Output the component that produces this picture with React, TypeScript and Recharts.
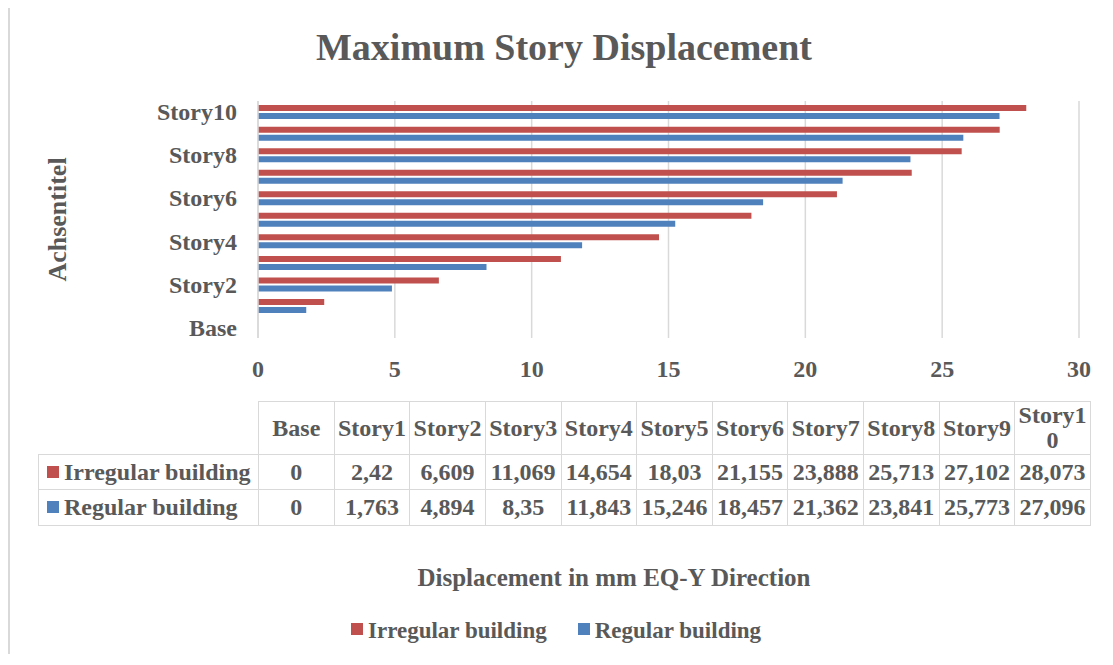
import React from "react";
import { BarChart, Bar, XAxis, YAxis, CartesianGrid, Label } from "recharts";

const stories = ["Base", "Story1", "Story2", "Story3", "Story4", "Story5", "Story6", "Story7", "Story8", "Story9", "Story10"];
const irregular = [0, 2.42, 6.609, 11.069, 14.654, 18.03, 21.155, 23.888, 25.713, 27.102, 28.073];
const regular = [0, 1.763, 4.894, 8.35, 11.843, 15.246, 18.457, 21.362, 23.841, 25.773, 27.096];
const xTicks = [0, 5, 10, 15, 20, 25, 30];

const RED = "#C0504D";
const BLUE = "#4F81BD";
const INK = "#595959";
const GRID = "#d9d9d9";
const FONT = "'Liberation Serif', 'Times New Roman', serif";

const data = stories.map((name, i) => ({ name, irregular: irregular[i], regular: regular[i] }));

// Excel shows decimals with a comma
const fmt = (v: number) => String(v).replace(".", ",");

function YTitle(props: any) {
  const vb = props.viewBox || {};
  const cy = vb.y + vb.height / 2;
  const x = 49;
  return (
    <text
      x={x}
      y={cy}
      transform={`rotate(-90, ${x}, ${cy})`}
      textAnchor="middle"
      dominantBaseline="central"
      fill={INK}
      fontSize={26}
      fontWeight={700}
      fontFamily={FONT}
    >
      Achsentitel
    </text>
  );
}

const cell: React.CSSProperties = {
  border: `1.5px solid ${GRID}`,
  padding: 0,
  textAlign: "center",
  fontWeight: 700,
  fontSize: 24,
  color: INK,
  fontFamily: FONT,
};

function Swatch({ color }: { color: string }) {
  return <span style={{ display: "inline-block", width: 12, height: 12, background: color, marginRight: 5, verticalAlign: "middle", position: "relative", top: -2 }} />;
}

export default function App() {
  const colW = 832 / stories.length;
  return (
    <div style={{ position: "relative", width: 1105, height: 650, marginTop: -4, fontFamily: FONT, color: INK }}>
      <div style={{ position: "absolute", left: 0, top: 0, right: 0, bottom: 0, borderLeft: `2px solid ${GRID}`, borderTop: `2px solid ${GRID}` }} />
      <div style={{ position: "absolute", left: 0, width: 1112, top: 21, textAlign: "center", fontSize: 38, fontWeight: 700 }}>
        Maximum Story Displacement
      </div>

      <div style={{ position: "absolute", left: 0, top: 0 }}>
        <BarChart
          width={1105}
          height={650}
          data={data}
          layout="vertical"
          margin={{ top: 97, right: 34, bottom: 276, left: 0 }}
          barCategoryGap="19%"
          barGap={2}
        >
          <CartesianGrid horizontal={false} stroke={GRID} strokeWidth={1.5} />
          <XAxis
            type="number"
            domain={[0, 30]}
            ticks={xTicks}
            axisLine={false}
            tickLine={false}
            tickMargin={16}
            height={40}
            tick={{ fill: INK, fontSize: 24, fontWeight: 700, fontFamily: FONT }}
          />
          <YAxis
            type="category"
            dataKey="name"
            reversed
            interval={1}
            width={250}
            axisLine={{ stroke: GRID, strokeWidth: 1.5 }}
            tickLine={false}
            tickMargin={15}
            tick={{ fill: INK, fontSize: 24, fontWeight: 700, fontFamily: FONT }}
          >
            <Label content={YTitle} />
          </YAxis>
          <Bar dataKey="irregular" name="Irregular building" fill={RED} isAnimationActive={false} />
          <Bar dataKey="regular" name="Regular building" fill={BLUE} isAnimationActive={false} />
        </BarChart>
      </div>

      <table
        style={{
          position: "absolute",
          left: 30,
          top: 397,
          borderCollapse: "collapse",
          tableLayout: "fixed",
          width: 220 + 832,
        }}
      >
        <colgroup>
          <col style={{ width: 220 }} />
          {stories.map((s) => (
            <col key={s} style={{ width: colW }} />
          ))}
        </colgroup>
        <tbody>
          <tr style={{ height: 53 }}>
            <td style={{ ...cell, border: "none" }} />
            {stories.map((s) => (
              <td key={s} style={{ ...cell, wordBreak: "break-all", lineHeight: "25px" }}>
                {s}
              </td>
            ))}
          </tr>
          <tr style={{ height: 35 }}>
            <td style={{ ...cell, textAlign: "left", paddingLeft: 8, whiteSpace: "nowrap" }}>
              <Swatch color={RED} />
              Irregular building
            </td>
            {irregular.map((v, i) => (
              <td key={i} style={cell}>
                {fmt(v)}
              </td>
            ))}
          </tr>
          <tr style={{ height: 36 }}>
            <td style={{ ...cell, textAlign: "left", paddingLeft: 8, whiteSpace: "nowrap" }}>
              <Swatch color={BLUE} />
              Regular building
            </td>
            {regular.map((v, i) => (
              <td key={i} style={cell}>
                {fmt(v)}
              </td>
            ))}
          </tr>
        </tbody>
      </table>

      <div style={{ position: "absolute", left: 406, width: 400, top: 560, textAlign: "center", fontSize: 25, fontWeight: 700, whiteSpace: "nowrap" }}>
        Displacement in mm EQ-Y Direction
      </div>

      <div style={{ position: "absolute", left: 343, top: 614, fontSize: 23, fontWeight: 700, whiteSpace: "nowrap", display: "flex", alignItems: "center" }}>
        <Swatch color={RED} />
        <span style={{ marginRight: 31 }}>Irregular building</span>
        <Swatch color={BLUE} />
        <span>Regular building</span>
      </div>
    </div>
  );
}
